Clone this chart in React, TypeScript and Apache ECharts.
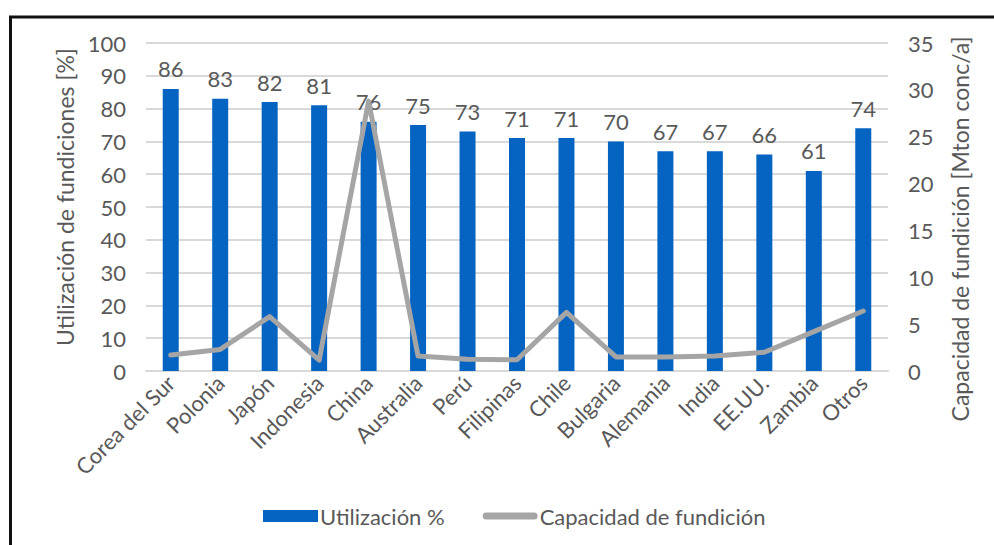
import React, { useEffect, useRef } from "react";
import * as echarts from "echarts";

const categories = [
  "Corea del Sur", "Polonia", "Japón", "Indonesia", "China", "Australia", "Perú",
  "Filipinas", "Chile", "Bulgaria", "Alemania", "India", "EE.UU.", "Zambia", "Otros",
];
const utilizacion = [86, 83, 82, 81, 76, 75, 73, 71, 71, 70, 67, 67, 66, 61, 74];
const capacidad = [1.7, 2.3, 5.8, 1.15, 28.8, 1.6, 1.25, 1.2, 6.25, 1.5, 1.5, 1.6, 2.0, 4.2, 6.4];
const leftTicks = { min: 0, max: 100, interval: 10 };
const rightTicks = { min: 0, max: 35, interval: 5 };

const FONT = "Lato";
const TXT = "#595959";
const LINE_ICON = "path://M3.5,0 L51.5,0 A3.5,3.5 0 0 1 51.5,7 L3.5,7 A3.5,3.5 0 0 1 3.5,0 Z";

export default function App() {
  const ref = useRef<HTMLDivElement>(null);
  useEffect(() => {
    document.body.style.margin = "0";
    const chart = echarts.init(ref.current!, null, { renderer: "svg" });
    chart.setOption({
      animation: false,
      backgroundColor: "#ffffff",
      textStyle: { fontFamily: FONT, color: TXT },
      graphic: [
        { type: "line", shape: { x1: 9, y1: 17, x2: 994, y2: 17 }, style: { stroke: "#111111", lineWidth: 3 } },
        { type: "line", shape: { x1: 10.5, y1: 16, x2: 10.5, y2: 545 }, style: { stroke: "#111111", lineWidth: 3 } },
      ],
      grid: { left: 146, right: 106, top: 43, bottom: 174, containLabel: false },
      legend: {
        bottom: 13,
        left: 258,
        itemWidth: 55,
        itemHeight: 12,
        itemGap: 38,
        symbolKeepAspect: true,
        textStyle: { fontFamily: FONT, fontSize: 22, color: TXT, padding: [0, 0, 0, -3] },
        data: [
          { name: "Utilización %", icon: "rect" },
          { name: "Capacidad de fundición", icon: LINE_ICON, itemStyle: { color: "#A5A5A5", borderWidth: 0 } },
        ],
      },
      xAxis: {
        type: "category",
        data: categories,
        boundaryGap: true,
        axisTick: { show: false },
        axisLine: { show: true, lineStyle: { color: "#D9D9D9", width: 2 } },
        axisLabel: { rotate: 45, margin: 8, fontFamily: FONT, fontSize: 22, color: TXT, interval: 0 },
      },
      yAxis: [
        {
          type: "value",
          ...leftTicks,
          name: "Utilización de fundiciones [%]",
          nameLocation: "middle",
          nameGap: 64,
          nameTextStyle: { fontFamily: FONT, fontSize: 23, color: TXT, padding: [0, 0, 0, 20] },
          axisLabel: { margin: 20, fontFamily: FONT, fontSize: 22, color: TXT },
          axisLine: { show: false },
          axisTick: { show: false },
          splitLine: { lineStyle: { color: "#D9D9D9", width: 2 } },
        },
        {
          type: "value",
          ...rightTicks,
          name: "Capacidad de fundición [Mton conc/a]",
          nameLocation: "middle",
          nameGap: 60,
          nameTextStyle: { fontFamily: FONT, fontSize: 23, color: TXT, padding: [0, 44, 0, 0] },
          axisLabel: { margin: 20, fontFamily: FONT, fontSize: 22, color: TXT },
          axisLine: { show: false },
          axisTick: { show: false },
          splitLine: { show: false },
        },
      ],
      series: [
        {
          name: "Utilización %",
          type: "bar",
          yAxisIndex: 0,
          data: utilizacion,
          barWidth: 16,
          itemStyle: { color: "#0563C1" },
          label: { show: true, position: "top", distance: 9, fontFamily: FONT, fontSize: 22, color: TXT },
          z: 2,
        },
        {
          name: "Capacidad de fundición",
          type: "line",
          yAxisIndex: 1,
          data: capacidad,
          symbol: "none",
          lineStyle: { color: "#A5A5A5", width: 5, cap: "round", join: "round" },
          itemStyle: { color: "#A5A5A5" },
          z: 3,
        },
      ],
    });
    return () => chart.dispose();
  }, []);
  return <div ref={ref} style={{ width: 994, height: 545 }} />;
}
